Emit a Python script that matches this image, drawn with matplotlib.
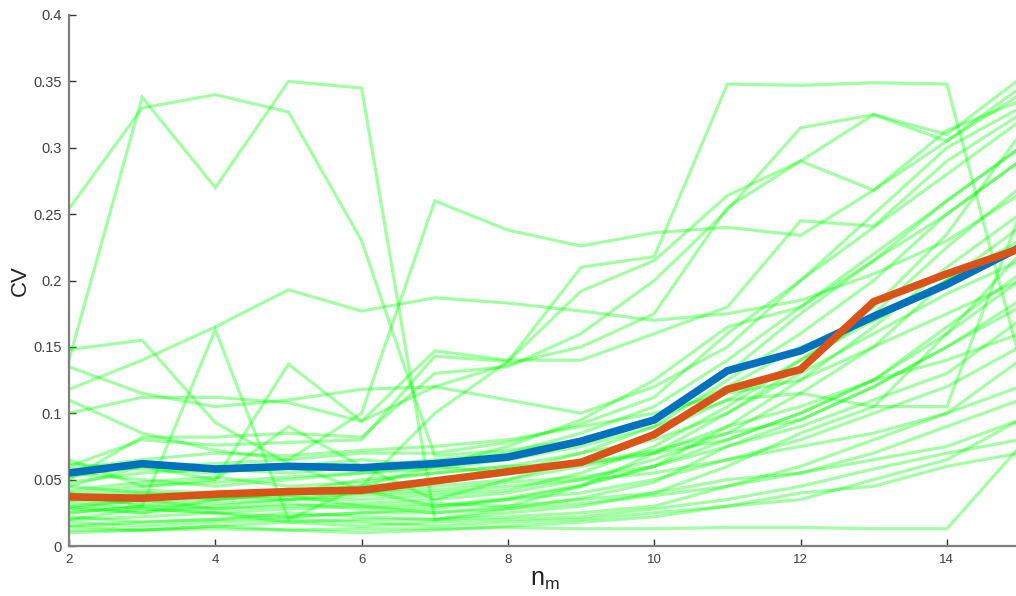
import matplotlib
matplotlib.use("Agg")
import matplotlib.pyplot as plt

plt.rcParams['font.family'] = ['Liberation Sans', 'DejaVu Sans']
plt.rcParams['mathtext.fontset'] = 'custom'
plt.rcParams['mathtext.rm'] = 'Liberation Sans'
plt.rcParams['mathtext.it'] = 'Liberation Sans'

n_m = [2, 3, 4, 5, 6, 7, 8, 9, 10, 11, 12, 13, 14, 15]

mean_cv = [0.055, 0.062, 0.058, 0.060, 0.059, 0.062, 0.067, 0.079, 0.095, 0.132, 0.147, 0.173, 0.197, 0.225]
median_cv = [0.037, 0.036, 0.039, 0.041, 0.042, 0.049, 0.056, 0.063, 0.084, 0.118, 0.133, 0.184, 0.205, 0.224]

g01 = [0.254, 0.330, 0.340, 0.327, 0.230, 0.068, 0.072, 0.080, 0.095, 0.130, 0.175, 0.215, 0.260, 0.300]
g02 = [0.140, 0.338, 0.270, 0.350, 0.345, 0.020, 0.028, 0.036, 0.048, 0.075, 0.095, 0.120, 0.150, 0.180]
g03 = [0.110, 0.085, 0.072, 0.065, 0.100, 0.260, 0.238, 0.226, 0.236, 0.240, 0.234, 0.268, 0.305, 0.340]
g04 = [0.118, 0.140, 0.165, 0.193, 0.177, 0.187, 0.183, 0.177, 0.170, 0.175, 0.185, 0.205, 0.230, 0.265]
g05 = [0.148, 0.155, 0.093, 0.062, 0.042, 0.030, 0.036, 0.046, 0.060, 0.090, 0.125, 0.165, 0.210, 0.250]
g06 = [0.030, 0.025, 0.035, 0.040, 0.045, 0.100, 0.139, 0.210, 0.218, 0.348, 0.347, 0.349, 0.348, 0.140]
g07 = [0.135, 0.115, 0.105, 0.110, 0.118, 0.120, 0.137, 0.150, 0.175, 0.255, 0.290, 0.325, 0.310, 0.352]
g08 = [0.100, 0.112, 0.112, 0.108, 0.094, 0.147, 0.140, 0.140, 0.160, 0.180, 0.245, 0.241, 0.290, 0.325]
g09 = [0.060, 0.080, 0.076, 0.078, 0.080, 0.143, 0.139, 0.192, 0.215, 0.264, 0.290, 0.268, 0.313, 0.335]
g10 = [0.050, 0.082, 0.082, 0.085, 0.082, 0.130, 0.135, 0.160, 0.200, 0.253, 0.315, 0.325, 0.305, 0.345]
g11 = [0.045, 0.060, 0.050, 0.137, 0.094, 0.120, 0.110, 0.100, 0.120, 0.150, 0.200, 0.250, 0.300, 0.330]
g12 = [0.040, 0.030, 0.163, 0.020, 0.045, 0.060, 0.075, 0.095, 0.125, 0.165, 0.180, 0.215, 0.250, 0.290]
g13 = [0.065, 0.045, 0.050, 0.090, 0.060, 0.035, 0.050, 0.065, 0.085, 0.110, 0.140, 0.180, 0.235, 0.310]
g14 = [0.035, 0.040, 0.035, 0.038, 0.030, 0.025, 0.030, 0.045, 0.070, 0.100, 0.135, 0.175, 0.225, 0.270]
g15 = [0.025, 0.030, 0.028, 0.030, 0.032, 0.035, 0.040, 0.050, 0.065, 0.085, 0.115, 0.150, 0.200, 0.240]
g16 = [0.020, 0.022, 0.025, 0.022, 0.025, 0.028, 0.035, 0.045, 0.060, 0.080, 0.100, 0.125, 0.165, 0.205]
g17 = [0.015, 0.012, 0.015, 0.018, 0.020, 0.020, 0.025, 0.030, 0.040, 0.060, 0.085, 0.105, 0.105, 0.250]
g18 = [0.012, 0.012, 0.013, 0.012, 0.013, 0.013, 0.014, 0.013, 0.013, 0.014, 0.014, 0.013, 0.013, 0.075]
g19 = [0.030, 0.035, 0.040, 0.038, 0.040, 0.045, 0.050, 0.060, 0.070, 0.090, 0.105, 0.125, 0.140, 0.160]
g20 = [0.022, 0.018, 0.020, 0.025, 0.022, 0.020, 0.022, 0.025, 0.030, 0.045, 0.060, 0.080, 0.100, 0.120]
g21 = [0.055, 0.050, 0.045, 0.050, 0.055, 0.060, 0.068, 0.080, 0.095, 0.120, 0.150, 0.170, 0.200, 0.230]
g22 = [0.042, 0.048, 0.052, 0.045, 0.048, 0.055, 0.060, 0.070, 0.080, 0.100, 0.130, 0.160, 0.190, 0.215]
g23 = [0.018, 0.015, 0.018, 0.020, 0.018, 0.015, 0.018, 0.020, 0.025, 0.030, 0.035, 0.050, 0.065, 0.095]
g24 = [0.028, 0.025, 0.030, 0.035, 0.038, 0.040, 0.045, 0.050, 0.055, 0.065, 0.080, 0.100, 0.120, 0.150]
g25 = [0.038, 0.042, 0.040, 0.042, 0.045, 0.050, 0.055, 0.062, 0.072, 0.085, 0.095, 0.120, 0.150, 0.185]
g26 = [0.048, 0.055, 0.058, 0.055, 0.060, 0.065, 0.070, 0.085, 0.105, 0.140, 0.180, 0.220, 0.260, 0.300]
g27 = [0.010, 0.012, 0.015, 0.012, 0.010, 0.012, 0.015, 0.018, 0.022, 0.030, 0.040, 0.045, 0.060, 0.070]
g28 = [0.033, 0.028, 0.025, 0.028, 0.030, 0.032, 0.030, 0.035, 0.040, 0.050, 0.055, 0.065, 0.075, 0.095]
g29 = [0.025, 0.030, 0.032, 0.035, 0.035, 0.038, 0.042, 0.055, 0.075, 0.105, 0.140, 0.170, 0.200, 0.225]
g30 = [0.058, 0.065, 0.070, 0.068, 0.072, 0.075, 0.080, 0.090, 0.100, 0.115, 0.125, 0.150, 0.175, 0.200]
g31 = [0.015, 0.018, 0.020, 0.022, 0.025, 0.025, 0.028, 0.032, 0.038, 0.045, 0.055, 0.070, 0.090, 0.110]
g32 = [0.045, 0.040, 0.038, 0.035, 0.040, 0.042, 0.048, 0.052, 0.060, 0.075, 0.090, 0.110, 0.130, 0.170]
g33 = [0.020, 0.028, 0.025, 0.018, 0.015, 0.018, 0.020, 0.022, 0.028, 0.035, 0.045, 0.058, 0.070, 0.080]
g34 = [0.052, 0.060, 0.062, 0.065, 0.070, 0.070, 0.078, 0.092, 0.112, 0.160, 0.200, 0.240, 0.280, 0.320]
g35 = [0.035, 0.032, 0.035, 0.040, 0.050, 0.055, 0.060, 0.062, 0.070, 0.080, 0.100, 0.125, 0.160, 0.200]
g36 = [0.062, 0.058, 0.055, 0.060, 0.065, 0.060, 0.055, 0.070, 0.090, 0.125, 0.160, 0.200, 0.250, 0.290]
g37 = [0.028, 0.035, 0.028, 0.032, 0.028, 0.030, 0.035, 0.040, 0.050, 0.065, 0.075, 0.085, 0.100, 0.140]
g38 = [0.040, 0.045, 0.048, 0.052, 0.055, 0.058, 0.065, 0.075, 0.090, 0.110, 0.115, 0.105, 0.160, 0.220]

green_series = [g01, g02, g03, g04, g05, g06, g07, g08, g09, g10, g11, g12, g13,
                g14, g15, g16, g17, g18, g19, g20, g21, g22, g23, g24, g25, g26,
                g27, g28, g29, g30, g31, g32, g33, g34, g35, g36, g37, g38]

x_ticks = [2, 4, 6, 8, 10, 12, 14]
y_ticks = [0, 0.05, 0.1, 0.15, 0.2, 0.25, 0.3, 0.35, 0.4]
y_tick_labels = ['0', '0.05', '0.1', '0.15', '0.2', '0.25', '0.3', '0.35', '0.4']

W, H = 1016, 596
fig = plt.figure(figsize=(W / 100, H / 100), dpi=100)
left, right, top, bottom = 69, 1020, 15, 546
ax = fig.add_axes([left / W, (H - bottom) / H, (right - left) / W, (bottom - top) / H])

for s in green_series:
    ax.plot(n_m, s, color=(0.0, 1.0, 0.0), alpha=0.36, lw=2.3, solid_joinstyle='miter', zorder=2)

ax.plot(n_m, mean_cv, color='#0072BD', lw=5.5, zorder=3, solid_joinstyle='miter')
ax.plot(n_m, median_cv, color='#D95319', lw=5.5, zorder=4, solid_joinstyle='miter')

ax.set_xlim(2, 15)
ax.set_ylim(0, 0.4)
ax.set_xticks(x_ticks)
ax.set_yticks(y_ticks)
ax.set_yticklabels(y_tick_labels)

for side in ['top', 'right']:
    ax.spines[side].set_visible(False)
for side in ['left', 'bottom']:
    ax.spines[side].set_color('#7f7f7f')
    ax.spines[side].set_linewidth(1.6)

ax.tick_params(direction='in', length=5, width=1.0, colors='#333333',
               labelcolor='#404040')
ax.tick_params(axis='x', pad=6, labelsize=9.5)
ax.tick_params(axis='y', pad=5, labelsize=10.5)

ax.set_ylabel('CV', fontsize=16, color='#222222', labelpad=2)
ax.set_xlabel(r'n$_{\mathrm{m}}$', fontsize=18, color='#222222', labelpad=1)

fig.savefig('out.png', dpi=100)
